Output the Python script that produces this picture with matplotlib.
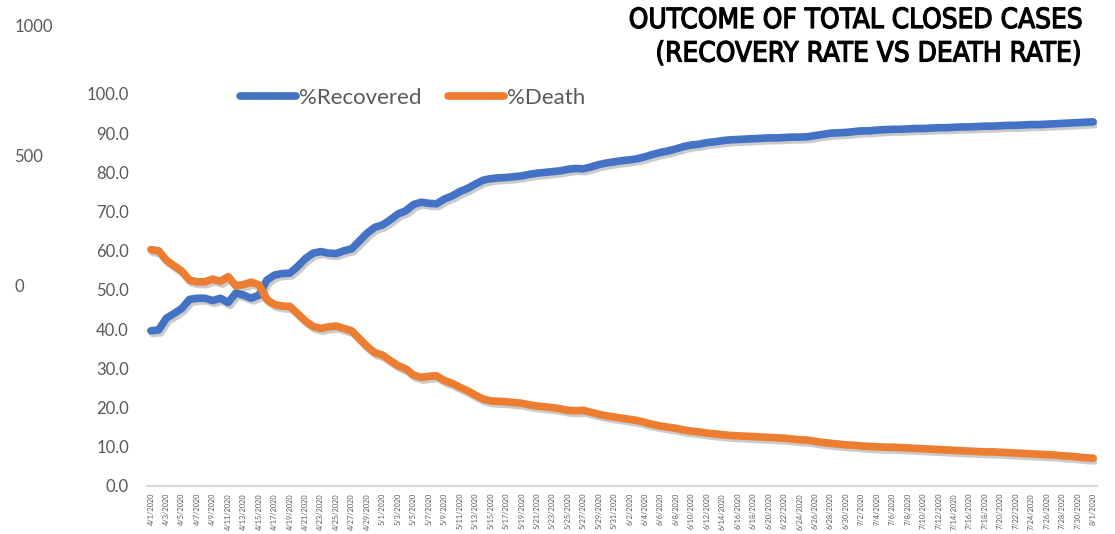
import matplotlib
matplotlib.use("Agg")
import matplotlib.pyplot as plt
import matplotlib.patheffects as pe
import pandas as pd

# dates 4/1/2020 .. 8/1/2020
dates = [f"{d.month}/{d.day}/{d.year}" for d in pd.date_range("2020-04-01", "2020-08-01")]

recovered = [39.6, 39.8, 42.8, 44.0, 45.3, 47.6, 47.9, 47.9, 47.3, 47.9,
             46.8, 49.2, 48.7, 47.9, 48.7, 52.5, 53.8, 54.2, 54.3, 56.0,
             58.0, 59.4, 59.8, 59.4, 59.3, 60.0, 60.5, 62.5, 64.5, 66.0,
             66.6, 67.9, 69.4, 70.2, 71.8, 72.4, 72.1, 72.0, 73.2, 74.0,
             75.1, 75.9, 77.0, 78.0, 78.4, 78.6, 78.7, 78.9, 79.1, 79.5,
             79.8, 80.0, 80.2, 80.4, 80.8, 81.0, 80.9, 81.4, 82.0, 82.4,
             82.7, 83.0,
             83.2, 83.5, 84.0, 84.6, 85.1, 85.5, 86.0, 86.6, 87.0, 87.2,
             87.6, 87.8, 88.1, 88.3, 88.4, 88.5, 88.6, 88.7, 88.8, 88.8,
             88.9, 89.0, 89.0, 89.1, 89.4, 89.7, 90.0, 90.1, 90.2, 90.4,
             90.6, 90.6,
             90.8, 90.9, 91.0, 91.0, 91.1, 91.2, 91.2, 91.3, 91.4, 91.4,
             91.5, 91.6, 91.6, 91.7, 91.8, 91.8, 91.9, 92.0, 92.0, 92.1,
             92.2, 92.2, 92.3, 92.4, 92.5, 92.6, 92.7, 92.8, 92.9]

death = [60.3, 60.0, 57.6, 56.2, 54.8, 52.5, 52.1, 52.1, 52.8, 52.2,
         53.4, 51.1, 51.4, 52.0, 51.3, 47.6, 46.3, 45.9, 45.8, 44.0,
         42.1, 40.7, 40.2, 40.6, 40.8, 40.2, 39.6, 37.6, 35.6, 34.0,
         33.4, 32.0, 30.7, 29.9, 28.3, 27.7, 28.0, 28.1, 26.9, 26.2,
         25.2, 24.3, 23.2, 22.2, 21.7, 21.6, 21.5, 21.3, 21.1, 20.7,
         20.4, 20.2, 20.0, 19.7, 19.3, 19.2, 19.3, 18.8, 18.3, 17.9,
         17.6, 17.3,
         17.0, 16.7, 16.2, 15.7, 15.3, 15.0, 14.7, 14.3, 14.0, 13.8,
         13.5, 13.3, 13.1, 12.9, 12.8, 12.7, 12.6, 12.5, 12.4, 12.3,
         12.2, 12.0, 11.8, 11.7, 11.4, 11.1, 10.9, 10.7, 10.5, 10.4,
         10.2, 10.1,
         10.0, 9.9, 9.9, 9.8, 9.7, 9.6, 9.5, 9.4, 9.3, 9.2,
         9.1, 9.0, 8.9, 8.8, 8.7, 8.7, 8.6, 8.5, 8.4, 8.3,
         8.2, 8.1, 8.0, 7.9, 7.7, 7.6, 7.4, 7.2, 7.1]

yticks = [0, 10, 20, 30, 40, 50, 60, 70, 80, 90, 100]
left_ticks = [0, 500, 1000]

plt.rcParams['font.family'] = ['Lato', 'DejaVu Sans']
grey = '#595959'

fig = plt.figure(figsize=(11.15, 5.34), dpi=100)
W, H = 1115, 534

ax = fig.add_axes([147 / W, (H - 486) / H, 950 / W, (486 - 94) / H])
x = list(range(len(dates)))
shadow = [pe.SimpleLineShadow(offset=(1.5, -2), alpha=0.3, shadow_color='#555555'), pe.Normal()]
ax.plot(x, recovered, color='#4472C4', lw=5.5, solid_capstyle='round',
        solid_joinstyle='round', label='%Recovered', path_effects=shadow)
ax.plot(x, death, color='#ED7D31', lw=5.5, solid_capstyle='round',
        solid_joinstyle='round', label='%Death', path_effects=shadow)

ax.set_xlim(-0.5, len(dates) - 0.5)
ax.set_ylim(0, 100)
ax.set_yticks(yticks)
ax.set_yticklabels([f"{v:.1f}" for v in yticks], fontsize=12, color=grey)
ax.set_xticks(x[::2])
ax.set_xticklabels(dates[::2], rotation=90, fontsize=5.3, color=grey)
ax.tick_params(axis='y', length=0, pad=13)
ax.tick_params(axis='x', length=0, pad=5)
for s in ['top', 'right', 'left']:
    ax.spines[s].set_visible(False)
ax.spines['bottom'].set_color('#d9d9d9')
ax.spines['bottom'].set_linewidth(1.5)

leg = ax.legend(loc='center left', bbox_to_anchor=(240 / W, 1 - 98 / H),
                bbox_transform=fig.transFigure, ncol=2, frameon=False,
                fontsize=16, handlelength=2.5, handletextpad=0.15,
                columnspacing=1.2, borderpad=0, borderaxespad=0)
for t in leg.get_texts():
    t.set_color(grey)
for h in leg.get_lines():
    h.set_path_effects([])

# stray axis on the far left
ax2 = fig.add_axes([14 / W, (H - 285) / H, 0.0001, (285 - 25) / H])
ax2.set_ylim(0, 1000)
ax2.set_yticks(left_ticks)
ax2.set_yticklabels([str(v) for v in left_ticks], fontsize=12, color=grey)
ax2.yaxis.set_ticks_position('right')
ax2.tick_params(axis='y', length=0, pad=0)
ax2.set_xticks([])
for s in ax2.spines.values():
    s.set_visible(False)
ax2.patch.set_visible(False)

fig.text(1082 / W, 1 - 6 / H, "OUTCOME OF TOTAL CLOSED CASES\n(RECOVERY RATE VS DEATH RATE)",
         ha='right', va='top', multialignment='right', fontsize=20,
         family=['DejaVu Sans'], fontstretch='condensed', fontweight='normal',
         color='black', linespacing=1.25,
         path_effects=[pe.withStroke(linewidth=0.9, foreground='black')])

fig.savefig('out.png', dpi=100)
